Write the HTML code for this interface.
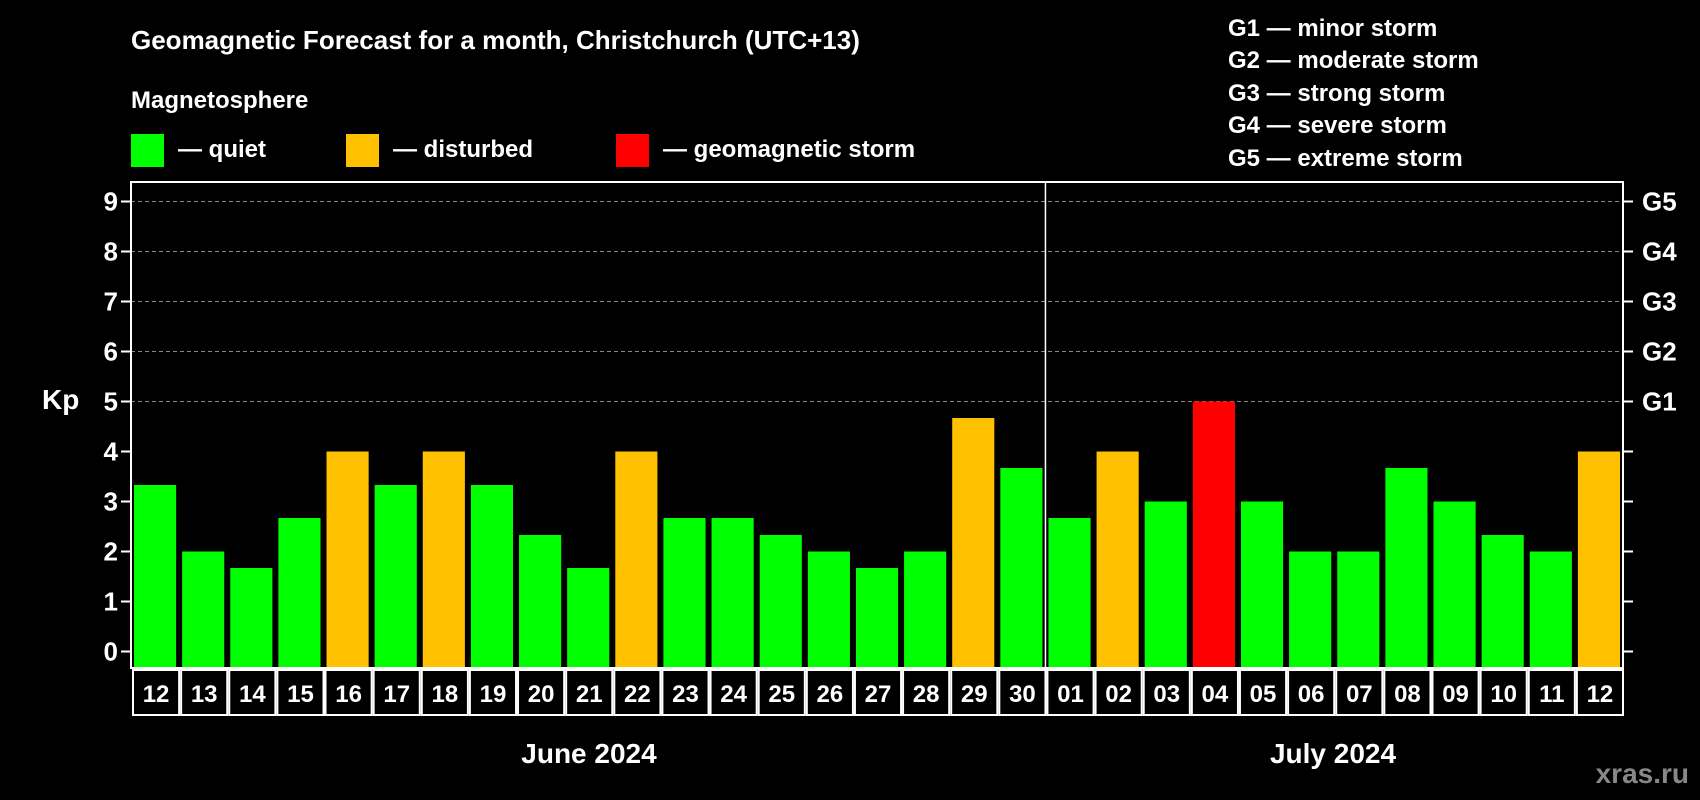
<!DOCTYPE html>
<html><head><meta charset="utf-8"><style>
html,body{margin:0;padding:0;background:#000;}
svg{display:block;font-family:"Liberation Sans",Arial,sans-serif;font-weight:bold;}
</style></head><body>
<svg id="chart" width="1700" height="800" viewBox="0 0 1700 800" xmlns="http://www.w3.org/2000/svg">
<rect width="1700" height="800" fill="#000"/>
<text x="131" y="49" fill="#fff" font-size="26">Geomagnetic Forecast for a month, Christchurch (UTC+13)</text>
<text x="131" y="108" fill="#fff" font-size="24">Magnetosphere</text>
<g><rect x="131" y="134" width="33" height="33" fill="#00ff00"/><text x="178" y="157" fill="#fff" font-size="24">— quiet</text></g>
<g><rect x="346" y="134" width="33" height="33" fill="#ffc000"/><text x="393" y="157" fill="#fff" font-size="24">— disturbed</text></g>
<g><rect x="616" y="134" width="33" height="33" fill="#ff0000"/><text x="663" y="157" fill="#fff" font-size="24">— geomagnetic storm</text></g>
<g fill="#fff" font-size="24">
<text x="1228" y="36">G1 — minor storm</text>
<text x="1228" y="68">G2 — moderate storm</text>
<text x="1228" y="101">G3 — strong storm</text>
<text x="1228" y="133">G4 — severe storm</text>
<text x="1228" y="166">G5 — extreme storm</text>
</g>
<text x="42" y="409" fill="#fff" font-size="28">Kp</text>
<text x="589" y="763" fill="#fff" font-size="28" text-anchor="middle">June 2024</text>
<text x="1333" y="763" fill="#fff" font-size="28" text-anchor="middle">July 2024</text>
<text x="1689" y="783" fill="#888" font-size="28" text-anchor="end">xras.ru</text>
<g id="plot"></g>
</svg>
<script>
const days = ["12","13","14","15","16","17","18","19","20","21","22","23","24","25","26","27","28","29","30","01","02","03","04","05","06","07","08","09","10","11","12"];
const kpValues = [3.33,2,1.67,2.67,4,3.33,4,3.33,2.33,1.67,4,2.67,2.67,2.33,2,1.67,2,4.67,3.67,2.67,4,3,5,3,2,2,3.67,3,2.33,2,4];
const yTicks = [0,1,2,3,4,5,6,7,8,9];
const gLabels = ["","","","","","G1","G2","G3","G4","G5"];
const monthSplit = 19;

const NS="http://www.w3.org/2000/svg";
const L=131,R=1623,T=182,B=668;
const n=days.length, step=(R-L)/n;
const y=v=>651.5-v*50;
const x=i=>L+i*step;
const g=document.getElementById('plot');
function mk(tag,attrs){const e=document.createElementNS(NS,tag);for(const k in attrs)e.setAttribute(k,attrs[k]);g.appendChild(e);return e;}

yTicks.forEach((t,i)=>{
  if(t>=5){const gl=mk('line',{x1:L,x2:R,y1:y(t),y2:y(t),stroke:'#888','stroke-dasharray':'4,3','stroke-width':1});
    
    }
  const tl=mk('line',{x1:L-10,x2:L,y1:y(t),y2:y(t),stroke:'#fff','stroke-width':2});
  
  
  const tr=mk('line',{x1:R,x2:R+10,y1:y(t),y2:y(t),stroke:'#fff','stroke-width':2});
  
  
  const lb=mk('text',{x:118,y:y(t)+9,fill:'#fff','font-size':26,'text-anchor':'end'});
  lb.textContent=t;
  
  
  if(gLabels[i]){const gt=mk('text',{x:1642,y:y(t)+9,fill:'#fff','font-size':26});
    gt.textContent=gLabels[i];
    
    }
});
kpValues.forEach((v,i)=>{
  const c=v>=5?'#ff0000':(v>=4?'#ffc000':'#00ff00');
  const b=mk('rect',{x:x(i)+3,y:y(v),width:step-6,height:y(0)-y(v)+(B-y(0))-1,fill:c});
  
  
  const cell=mk('rect',{x:x(i)+2,y:670,width:step-2,height:45,fill:'none',stroke:'#fff','stroke-width':2});
  
  
  const dt=mk('text',{x:x(i)+step/2+1,y:702,fill:'#fff','font-size':24,'text-anchor':'middle'});
  dt.textContent=days[i];
  
  
});
const fr=mk('rect',{x:L,y:T,width:R-L,height:B-T,fill:'none',stroke:'#fff','stroke-width':2});


const dv=mk('line',{x1:x(monthSplit),x2:x(monthSplit),y1:T,y2:B,stroke:'#fff','stroke-width':1.5});


</script>
</body></html>
